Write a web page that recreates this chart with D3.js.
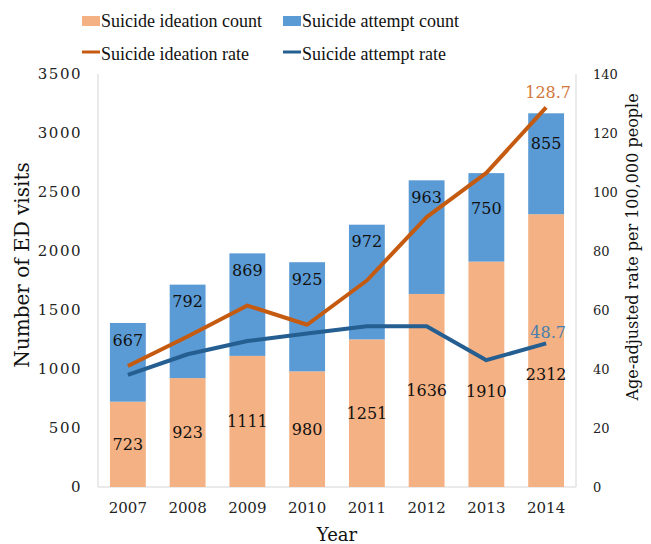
<!DOCTYPE html>
<html>
<head>
<meta charset="utf-8">
<script src="https://cdn.jsdelivr.net/npm/d3@7"></script>
<style>
  body { margin: 0; background: #fff; }
  svg { display: block; }
</style>
</head>
<body>
<div class="chart"></div>
<script>
// values
var years = ["2007", "2008", "2009", "2010", "2011", "2012", "2013", "2014"];
var ideationCount = [723, 923, 1111, 980, 1251, 1636, 1910, 2312];
var attemptCount = [667, 792, 869, 925, 972, 963, 750, 855];
var ideationRate = [41, 51, 61.5, 55, 70, 91.5, 106.5, 128.7];
var attemptRate = [38, 45, 49.5, 52, 54.5, 54.5, 43, 48.7];
var leftTicks = [0, 500, 1000, 1500, 2000, 2500, 3000, 3500];
var rightTicks = [0, 20, 40, 60, 80, 100, 120, 140];

var w = 651;
var h = 544;
var serif = "'DejaVu Serif', serif";
var textFont = "'Liberation Serif', 'DejaVu Serif', serif";

var cIdeation = "#F4B183";
var cAttempt = "#5B9BD5";
var cIdeationLine = "#C55A11";
var cAttemptLine = "#255E91";

var svg = d3.select(".chart")
  .append("svg")
  .attr("width", w)
  .attr("height", h);

var x = d3.scaleBand()
  .domain(years)
  .range([98, 576])
  .paddingInner(0.4)
  .paddingOuter(0.2);

var y = d3.scaleLinear().domain([0, 3500]).range([487, 74]);
var y2 = d3.scaleLinear().domain([0, 140]).range([487, 74]);

function cx(i) { return x(years[i]) + x.bandwidth() / 2; }

// frame lines (light grey)
svg.append("line")
  .attr("x1", 98).attr("x2", 98).attr("y1", 74).attr("y2", 487)
  .attr("stroke", "#e3e3e3").attr("stroke-width", 1.5);
svg.append("line")
  .attr("x1", 576).attr("x2", 576).attr("y1", 74).attr("y2", 487)
  .attr("stroke", "#e3e3e3").attr("stroke-width", 1.5);
svg.append("line")
  .attr("x1", 98).attr("x2", 576).attr("y1", 487).attr("y2", 487)
  .attr("stroke", "#e3e3e3").attr("stroke-width", 1.5);

// stacked bars
svg.selectAll("rect.ideation")
  .data(ideationCount)
  .enter()
  .append("rect")
  .attr("class", "ideation")
  .attr("x", function(d, i) { return x(years[i]); })
  .attr("y", function(d) { return y(d); })
  .attr("width", x.bandwidth())
  .attr("height", function(d) { return y(0) - y(d); })
  .attr("fill", cIdeation);

svg.selectAll("rect.attempt")
  .data(attemptCount)
  .enter()
  .append("rect")
  .attr("class", "attempt")
  .attr("x", function(d, i) { return x(years[i]); })
  .attr("y", function(d, i) { return y(d + ideationCount[i]); })
  .attr("width", x.bandwidth())
  .attr("height", function(d) { return y(0) - y(d); })
  .attr("fill", cAttempt);

// bar labels - ideation labels sit in the middle, but drop below the attempt line
svg.selectAll("text.ideationLbl")
  .data(ideationCount)
  .enter()
  .append("text")
  .attr("class", "ideationLbl")
  .text(function(d) { return d; })
  .attr("x", function(d, i) { return cx(i); })
  .attr("y", function(d, i) { return Math.max(y(d / 2), y2(attemptRate[i]) + 31); })
  .attr("dy", "0.35em")
  .attr("text-anchor", "middle")
  .attr("font-family", serif)
  .attr("font-size", "16px")
  .attr("fill", "#111");

svg.selectAll("text.attemptLbl")
  .data(attemptCount)
  .enter()
  .append("text")
  .attr("class", "attemptLbl")
  .text(function(d) { return d; })
  .attr("x", function(d, i) { return cx(i); })
  .attr("y", function(d, i) {
    var top = y(d + ideationCount[i]) + 17;
    var lineY = y2(ideationRate[i]);
    // push label under the ideation line when it would sit on it
    if (top - lineY < 27 && top - lineY > -10) return lineY + 36;
    return top;
  })
  .attr("dy", "0.35em")
  .attr("text-anchor", "middle")
  .attr("font-family", serif)
  .attr("font-size", "16px")
  .attr("fill", "#111");

// rate lines
var line = d3.line()
  .x(function(d, i) { return cx(i); })
  .y(function(d) { return y2(d); });

svg.append("path")
  .datum(ideationRate)
  .attr("d", line)
  .attr("fill", "none")
  .attr("stroke", cIdeationLine)
  .attr("stroke-width", 4)
  .attr("stroke-linejoin", "round");

svg.append("path")
  .datum(attemptRate)
  .attr("d", line)
  .attr("fill", "none")
  .attr("stroke", cAttemptLine)
  .attr("stroke-width", 4)
  .attr("stroke-linejoin", "round");

var last = years.length - 1;
svg.append("text")
  .text(ideationRate[last])
  .attr("x", cx(last) + 2)
  .attr("y", y2(ideationRate[last]) - 15)
  .attr("dy", "0.35em")
  .attr("text-anchor", "middle")
  .attr("font-family", serif)
  .attr("font-size", "16px")
  .attr("fill", "#D2773A");

svg.append("text")
  .text(attemptRate[last])
  .attr("x", cx(last) + 2)
  .attr("y", y2(attemptRate[last]) - 11)
  .attr("dy", "0.35em")
  .attr("text-anchor", "middle")
  .attr("font-family", serif)
  .attr("font-size", "16px")
  .attr("fill", "#4A7EAD");

// axes
var leftAxis = svg.append("g")
  .attr("transform", "translate(82,0)")
  .call(d3.axisLeft(y).tickValues(leftTicks).tickFormat(d3.format("d")).tickSize(0).tickPadding(0));
leftAxis.select(".domain").remove();
leftAxis.selectAll("text")
  .attr("font-family", serif)
  .attr("font-size", "15px")
  .attr("letter-spacing", "1.5px")
  .attr("fill", "#222");

var rightAxis = svg.append("g")
  .attr("transform", "translate(593,0)")
  .call(d3.axisRight(y2).tickValues(rightTicks).tickSize(0).tickPadding(0));
rightAxis.select(".domain").remove();
rightAxis.selectAll("text")
  .attr("font-family", serif)
  .attr("font-size", "13px")
  .attr("fill", "#222");

var bottomAxis = svg.append("g")
  .attr("transform", "translate(0,502)")
  .call(d3.axisBottom(x).tickSize(0).tickPadding(0));
bottomAxis.select(".domain").remove();
bottomAxis.selectAll("text")
  .attr("font-family", serif)
  .attr("font-size", "15px")
  .attr("fill", "#222");

// axis titles
svg.append("text")
  .text("Number of ED visits")
  .attr("transform", "translate(22,265) rotate(-90)")
  .attr("dy", "0.35em")
  .attr("text-anchor", "middle")
  .attr("font-family", serif)
  .attr("font-size", "20px")
  .attr("fill", "#111");

svg.append("text")
  .text("Age-adjusted rate per 100,000 people")
  .attr("transform", "translate(632,247) rotate(-90)")
  .attr("dy", "0.35em")
  .attr("text-anchor", "middle")
  .attr("font-family", serif)
  .attr("font-size", "16px")
  .attr("fill", "#111");

svg.append("text")
  .text("Year")
  .attr("x", 337)
  .attr("y", 535)
  .attr("dy", "0.35em")
  .attr("text-anchor", "middle")
  .attr("font-family", serif)
  .attr("font-size", "18px")
  .attr("fill", "#111");

// legend
var legendItems = [
  { name: "Suicide ideation count", color: cIdeation, type: "bar", lx: 82, ly: 21 },
  { name: "Suicide attempt count", color: cAttempt, type: "bar", lx: 283, ly: 21 },
  { name: "Suicide ideation rate", color: cIdeationLine, type: "line", lx: 82, ly: 54 },
  { name: "Suicide attempt rate", color: cAttemptLine, type: "line", lx: 283, ly: 54 }
];

var legend = svg.selectAll("g.legend")
  .data(legendItems)
  .enter()
  .append("g")
  .attr("class", "legend")
  .attr("transform", function(d) { return "translate(" + d.lx + "," + d.ly + ")"; });

legend.filter(function(d) { return d.type == "bar"; })
  .append("rect")
  .attr("x", 0).attr("y", -5)
  .attr("width", 18).attr("height", 10)
  .attr("fill", function(d) { return d.color; });

legend.filter(function(d) { return d.type == "line"; })
  .append("line")
  .attr("x1", 0).attr("x2", 18).attr("y1", -2).attr("y2", -2)
  .attr("stroke", function(d) { return d.color; })
  .attr("stroke-width", 3);

legend.append("text")
  .text(function(d) { return d.name; })
  .attr("x", 19)
  .attr("y", 0)
  .attr("dy", "0.35em")
  .attr("font-family", textFont)
  .attr("font-size", "18px")
  .attr("fill", "#111");
</script>
</body>
</html>
